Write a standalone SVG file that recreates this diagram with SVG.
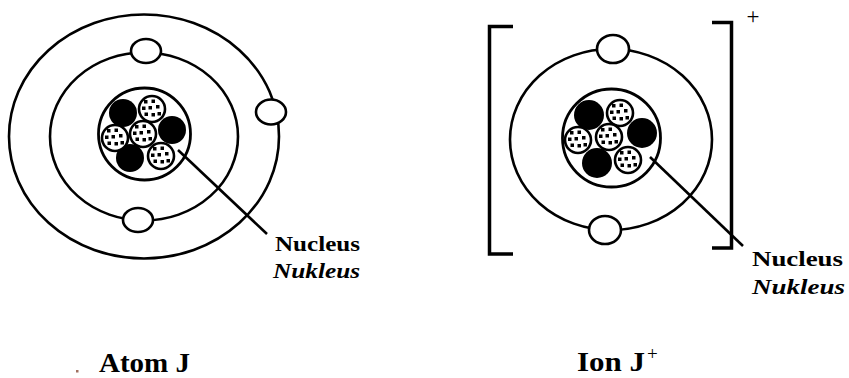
<svg xmlns="http://www.w3.org/2000/svg" xmlns:xlink="http://www.w3.org/1999/xlink" width="849" height="378" viewBox="0 0 849 378">
  <style>
    .orbit { fill: none; stroke: #000; stroke-width: 2.6; }
    .electron { fill: #fff; stroke: #000; stroke-width: 2.6; }
    .nucleus { fill: #fff; stroke: #000; stroke-width: 2.8; }
    .neutron { fill: #000; }
    .lead { stroke: #000; stroke-width: 2.6; fill: none; }
    .bracket { stroke: #000; stroke-width: 3.5; fill: none; }
    .lbl { font-family: "Liberation Serif", "Times New Roman", serif; font-weight: bold; fill: #000; }
    .it { font-style: italic; }
    .plus { font-family: "Liberation Serif", "Times New Roman", serif; fill: #000; }
  </style>
  <defs>
    <!-- speckled particle (proton) -->
    <g id="proton">
      <circle r="13" fill="#fff" stroke="#000" stroke-width="2.6"/>
      <g fill="#000">
        <rect x="-8" y="-9" width="3.5" height="3.5"/>
        <rect x="-0.5" y="-9.5" width="3.5" height="3.5"/>
        <rect x="-10" y="-2.5" width="3.5" height="3.5"/>
        <rect x="-3.5" y="-3" width="3.5" height="3.5"/>
        <rect x="4" y="-4" width="3.5" height="3.5"/>
        <rect x="-7.5" y="3.5" width="3.5" height="3.5"/>
        <rect x="-0.5" y="4" width="3.5" height="3.5"/>
        <rect x="5.5" y="3" width="3.5" height="3.5"/>
      </g>
    </g>
  </defs>

  <!-- Atom J -->
  <g id="atom-j">
    <ellipse class="orbit" cx="144" cy="136.5" rx="135" ry="122"/>
    <ellipse class="orbit" cx="144" cy="136.5" rx="94" ry="84"/>
    <ellipse class="electron" cx="146" cy="51" rx="15" ry="12"/>
    <ellipse class="electron" cx="138" cy="220" rx="15" ry="12"/>
    <ellipse class="electron" cx="271" cy="112" rx="15" ry="12.5"/>
    <circle class="nucleus" cx="144.5" cy="134" r="46"/>
    <circle class="neutron" cx="123" cy="113" r="14"/>
    <circle class="neutron" cx="172" cy="130" r="14"/>
    <circle class="neutron" cx="130" cy="158" r="14"/>
    <use xlink:href="#proton" x="152" y="109"/>
    <use xlink:href="#proton" x="143" y="134"/>
    <use xlink:href="#proton" x="115" y="138"/>
    <use xlink:href="#proton" x="161" y="156"/>
  </g>

  <!-- Ion J+ -->
  <g id="ion-j">
    <ellipse class="orbit" cx="611" cy="139.5" rx="101" ry="90.5"/>
    <ellipse class="electron" cx="613" cy="49" rx="16" ry="14"/>
    <ellipse class="electron" cx="605" cy="230" rx="16" ry="14"/>
    <circle class="nucleus" cx="611.5" cy="138" r="49"/>
    <circle class="neutron" cx="589" cy="115" r="15"/>
    <circle class="neutron" cx="642" cy="133" r="15"/>
    <circle class="neutron" cx="597" cy="163" r="15"/>
    <use xlink:href="#proton" x="620" y="113"/>
    <use xlink:href="#proton" x="609" y="137"/>
    <use xlink:href="#proton" x="578" y="140"/>
    <use xlink:href="#proton" x="628" y="160"/>
    <path class="bracket" d="M513 26.5 H489.5 V254 H513"/>
    <path class="bracket" d="M712 22.5 H731.5 V248 H712"/>
    <text class="plus" x="753" y="24" font-size="23" text-anchor="middle">+</text>
  </g>

  <!-- leader lines -->
  <g id="connectors">
    <line class="lead" x1="178" y1="150" x2="267" y2="234"/>
    <line class="lead" x1="650" y1="157" x2="743" y2="246"/>
  </g>

  <!-- labels -->
  <g id="labels">
    <text class="lbl" x="275" y="251" font-size="20" textLength="85" lengthAdjust="spacingAndGlyphs">Nucleus</text>
    <text class="lbl it" x="273" y="278" font-size="20" textLength="87" lengthAdjust="spacingAndGlyphs">Nukleus</text>
    <text class="lbl" x="752" y="266" font-size="22" textLength="91" lengthAdjust="spacingAndGlyphs">Nucleus</text>
    <text class="lbl it" x="752" y="294" font-size="22" textLength="93" lengthAdjust="spacingAndGlyphs">Nukleus</text>
    <rect x="76" y="370" width="2.5" height="2.5" fill="#a07060"/>
    <text class="lbl" x="99" y="372" font-size="27" textLength="91" lengthAdjust="spacingAndGlyphs">Atom J</text>
    <text class="lbl" x="577" y="371" font-size="27" textLength="68" lengthAdjust="spacingAndGlyphs">Ion J</text>
    <text class="plus" x="647" y="360" font-size="19">+</text>
  </g>
</svg>
